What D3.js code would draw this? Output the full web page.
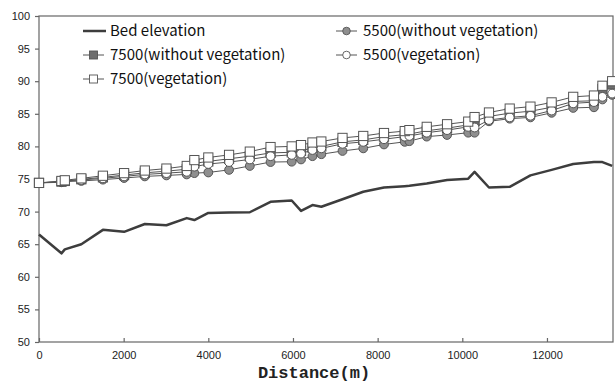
<!DOCTYPE html>
<html><head><meta charset="utf-8">
<script src="https://cdn.jsdelivr.net/npm/d3@7"></script>
<style>body{margin:0;background:#fff}svg{display:block}</style>
</head><body>
<script>
const distance = [0,530,610,1000,1510,2010,2500,3010,3490,3670,4000,4490,4980,5470,5970,6190,6460,6670,7170,7660,8150,8640,8750,9160,9640,10140,10290,10630,11120,11610,12110,12620,13110,13310,13540];
const bedElevation = [66.5,63.6,64.2,65.0,67.2,66.9,68.1,67.9,69.0,68.7,69.8,69.85,69.9,71.5,71.7,70.1,71.0,70.75,71.9,73.05,73.7,73.9,73.95,74.3,74.85,75.05,76.1,73.7,73.8,75.55,76.4,77.3,77.6,77.6,77.0];
const q5500NoVeg = [74.4,74.5,74.6,74.7,74.9,75.15,75.4,75.55,75.7,75.9,76.0,76.4,77.0,77.6,77.65,78.0,78.5,78.8,79.3,79.7,80.3,80.7,80.8,81.5,81.75,82.1,82.1,83.85,84.25,84.45,85.15,85.9,86.0,87.2,87.9];
const q7500NoVeg = [74.4,74.6,74.7,74.95,75.25,75.6,75.95,76.2,76.5,77.4,77.7,78.1,78.5,79.0,79.1,79.3,79.8,80.0,80.7,81.0,81.5,81.8,81.9,82.4,82.8,83.3,83.9,84.6,85.1,85.4,86.0,86.9,87.0,88.8,89.5];
const q5500Veg = [74.4,74.6,74.7,74.85,75.1,75.4,75.7,75.9,76.1,76.9,77.3,77.6,78.0,78.5,78.7,78.9,79.45,79.7,80.4,80.7,81.1,81.5,81.6,82.1,82.5,83.0,82.9,84.05,84.45,84.7,85.5,86.6,86.8,87.6,88.1];
const q7500Veg = [74.4,74.7,74.8,75.1,75.5,75.9,76.3,76.6,77.0,77.9,78.3,78.7,79.2,79.9,80.0,80.2,80.6,80.75,81.3,81.6,82.05,82.35,82.5,83.0,83.4,83.8,84.5,85.2,85.8,86.1,86.75,87.6,87.8,89.3,90.0];
const xTicks = [0,2000,4000,6000,8000,10000,12000];
const yTicks = [50,55,60,65,70,75,80,85,90,95,100];
const seriesNames = ["Bed elevation","5500(without vegetation)","7500(without vegetation)","5500(vegetation)","7500(vegetation)"];

const W=615,H=383;
const m={left:39,right:613,top:16,bottom:342};
const svg=d3.select("body").append("svg").attr("width",W).attr("height",H);
const x=d3.scaleLinear().domain([0,13560]).range([m.left,m.right]);
const y=d3.scaleLinear().domain([50,100]).range([m.bottom,m.top]);
const axisCol="#666";

// frame
svg.append("rect").attr("x",m.left).attr("y",m.top).attr("width",m.right-m.left).attr("height",m.bottom-m.top)
  .attr("fill","none").attr("stroke",axisCol).attr("stroke-width",1.2);

const yAx=svg.append("g").attr("transform",`translate(${m.left},0)`)
  .call(d3.axisLeft(y).tickValues(yTicks).tickSize(4).tickPadding(5));
const xAx=svg.append("g").attr("transform",`translate(0,${m.bottom})`)
  .call(d3.axisBottom(x).tickValues(xTicks).tickSize(-4).tickPadding(9).tickFormat(d3.format("d")));
[yAx,xAx].forEach(g=>{
  g.select(".domain").remove();
  g.selectAll("line").attr("stroke",axisCol).attr("stroke-width",1.2);
  g.selectAll("text").attr("font-family","Liberation Sans, Arial, sans-serif").attr("font-size",11).attr("fill","#222");
});

svg.append("text").attr("x",314).attr("y",378).attr("text-anchor","middle")
  .attr("font-family","Liberation Mono, Courier New, monospace").attr("font-weight","bold").attr("font-size",17)
  .attr("fill","#222").text("Distance(m)");

const pts=vals=>distance.map((d,i)=>[d,vals[i]]);
const line=d3.line().x(d=>x(d[0])).y(d=>y(d[1]));

// bed
svg.append("path").datum(pts(bedElevation)).attr("d",line).attr("fill","none").attr("stroke","#3d3d3d").attr("stroke-width",2.5).attr("stroke-linejoin","round");

const styles=[
  {vals:q5500NoVeg,shape:"circle",fill:"#8f8f8f"},
  {vals:q7500NoVeg,shape:"square",fill:"#6e6e6e"},
  {vals:q5500Veg,shape:"circle",fill:"#ffffff"},
  {vals:q7500Veg,shape:"square",fill:"#ffffff"}
];
function marker(g,shape,fill,cx,cy){
  if(shape==="circle"){
    g.append("circle").attr("cx",cx).attr("cy",cy).attr("r",4.4).attr("fill",fill).attr("stroke","#555").attr("stroke-width",1);
  } else {
    g.append("rect").attr("x",cx-4.6).attr("y",cy-4.6).attr("width",9.2).attr("height",9.2).attr("fill",fill).attr("stroke","#555").attr("stroke-width",1);
  }
}
styles.forEach(s=>{
  const g=svg.append("g");
  g.append("path").datum(pts(s.vals)).attr("d",line).attr("fill","none").attr("stroke","#555").attr("stroke-width",1);
  pts(s.vals).forEach(p=>marker(g,s.shape,s.fill,x(p[0]),y(p[1])));
});

// legend
const leg=[
  {name:seriesNames[0],lx:83,ly:31,type:"bed"},
  {name:seriesNames[1],lx:336,ly:31,type:"circle",fill:"#8f8f8f"},
  {name:seriesNames[2],lx:83,ly:55,type:"square",fill:"#6e6e6e"},
  {name:seriesNames[3],lx:336,ly:55,type:"circle",fill:"#ffffff"},
  {name:seriesNames[4],lx:83,ly:79,type:"square",fill:"#ffffff"}
];
leg.forEach(l=>{
  const g=svg.append("g");
  if(l.type==="bed"){
    g.append("line").attr("x1",l.lx).attr("x2",l.lx+23).attr("y1",l.ly).attr("y2",l.ly).attr("stroke","#3d3d3d").attr("stroke-width",2.5);
  } else {
    g.append("line").attr("x1",l.lx).attr("x2",l.lx+21).attr("y1",l.ly).attr("y2",l.ly).attr("stroke","#555").attr("stroke-width",1);
    if(l.type==="circle"){
      g.append("circle").attr("cx",l.lx+10.5).attr("cy",l.ly).attr("r",3.8).attr("fill",l.fill).attr("stroke","#555").attr("stroke-width",0.9);
    } else {
      g.append("rect").attr("x",l.lx+6.5).attr("y",l.ly-4).attr("width",8).attr("height",8).attr("fill",l.fill).attr("stroke","#555").attr("stroke-width",0.9);
    }
  }
  g.append("text").attr("x",l.lx+27).attr("y",l.ly+5).attr("font-family","Noto Sans CJK KR, Noto Sans, sans-serif")
    .attr("font-size",15).attr("fill","#111").text(l.name);
});
</script>
</body></html>
